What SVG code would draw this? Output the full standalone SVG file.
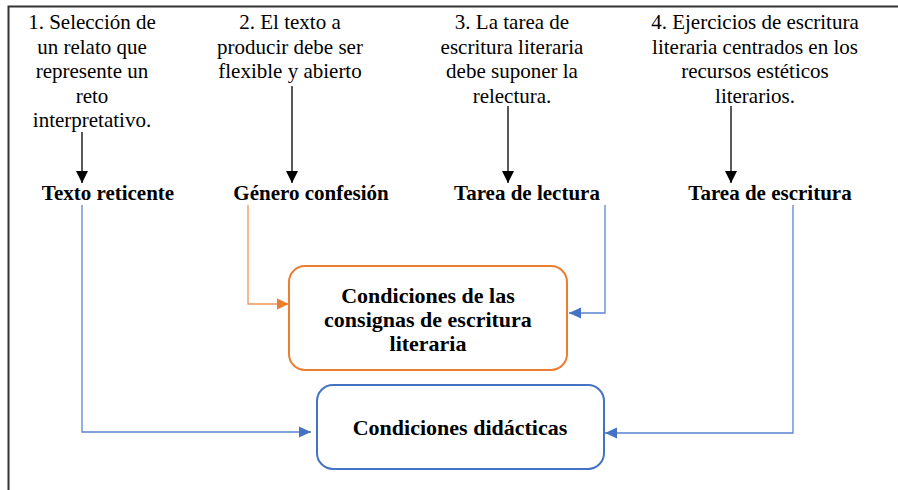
<svg xmlns="http://www.w3.org/2000/svg" width="898" height="490" viewBox="0 0 898 490">
<style>
.t{font-family:'Liberation Serif','Tinos','Times New Roman','DejaVu Serif',serif;font-size:21px;fill:#000;text-anchor:middle}
.b{font-family:'Liberation Serif','Tinos','Times New Roman','DejaVu Serif',serif;font-size:21px;font-weight:bold;fill:#000;text-anchor:middle}
.bb{font-family:'Liberation Serif','Tinos','Times New Roman','DejaVu Serif',serif;font-size:22px;font-weight:bold;fill:#000;text-anchor:middle}
.k{stroke:#000;stroke-width:1.3;fill:none}
.bl{stroke:#5B84D2;stroke-width:1.3;fill:none}
.or{stroke:#F0955A;stroke-width:1.3;fill:none}
</style>
<defs>
<marker id="ak" viewBox="0 0 12 12" refX="12" refY="6" markerWidth="12" markerHeight="12" orient="auto" markerUnits="userSpaceOnUse"><path d="M0,0 L12,6 L0,12 z" fill="#000"/></marker>
<marker id="ab" viewBox="0 0 12 12" refX="12" refY="6" markerWidth="12" markerHeight="12" orient="auto" markerUnits="userSpaceOnUse"><path d="M0,0.5 L12,6 L0,11.5 z" fill="#4472C4"/></marker>
<marker id="ao" viewBox="0 0 12 12" refX="12" refY="6" markerWidth="12" markerHeight="12" orient="auto" markerUnits="userSpaceOnUse"><path d="M0,0.5 L12,6 L0,11.5 z" fill="#ED7D31"/></marker>
</defs>
<rect width="898" height="490" fill="#fff"/>
<path d="M8.5,490 V6.5 H898" fill="none" stroke="#333" stroke-width="2"/>

<g id="crit1" font-family="Liberation Serif, serif">
<text class="t" x="92" y="29">1. Selección de</text>
<text class="t" x="92" y="53.5">un relato que</text>
<text class="t" x="92" y="78">represente un</text>
<text class="t" x="92" y="102.5">reto</text>
<text class="t" x="92" y="127">interpretativo.</text>
</g>
<g id="crit2">
<text class="t" x="290" y="29">2. El texto a</text>
<text class="t" x="290" y="53.5">producir debe ser</text>
<text class="t" x="290" y="78">flexible y abierto</text>
</g>
<g id="crit3">
<text class="t" x="512" y="29">3. La tarea de</text>
<text class="t" x="512" y="53.5">escritura literaria</text>
<text class="t" x="512" y="78">debe suponer la</text>
<text class="t" x="512" y="102.5">relectura.</text>
</g>
<g id="crit4">
<text class="t" x="755" y="29">4. Ejercicios de escritura</text>
<text class="t" x="755" y="53.5">literaria centrados en los</text>
<text class="t" x="755" y="78">recursos estéticos</text>
<text class="t" x="755" y="102.5">literarios.</text>
</g>

<g id="texto-reticente"><text class="b" x="108" y="200">Texto reticente</text></g>
<g id="genero-confesion"><text class="b" x="311" y="200">Género confesión</text></g>
<g id="tarea-lectura"><text class="b" x="527" y="200">Tarea de lectura</text></g>
<g id="tarea-escritura"><text class="b" x="770" y="200">Tarea de escritura</text></g>

<g id="condiciones-consignas">
<rect x="289" y="266" width="278" height="104" rx="16" fill="#fff" stroke="#ED7D31" stroke-width="2"/>
<text class="bb" x="428" y="303">Condiciones de las</text>
<text class="bb" x="428" y="327">consignas de escritura</text>
<text class="bb" x="428" y="351">literaria</text>
</g>
<g id="condiciones-didacticas">
<rect x="317" y="385" width="287" height="84" rx="16" fill="#fff" stroke="#4472C4" stroke-width="2"/>
<text class="bb" x="460" y="435">Condiciones didácticas</text>
</g>

<g id="connectors">
<path class="k" d="M82,132 V183" marker-end="url(#ak)"/>
<path class="k" d="M292,86 V183" marker-end="url(#ak)"/>
<path class="k" d="M508,106 V183" marker-end="url(#ak)"/>
<path class="k" d="M731,106 V183" marker-end="url(#ak)"/>
<path class="bl" d="M82,205 V432 H311" marker-end="url(#ab)"/>
<path class="or" d="M248,205 V304 H289" marker-end="url(#ao)"/>
<path class="bl" d="M605,205 V313 H569" marker-end="url(#ab)"/>
<path class="bl" d="M793,205 V433 H605" marker-end="url(#ab)"/>
</g>
</svg>
